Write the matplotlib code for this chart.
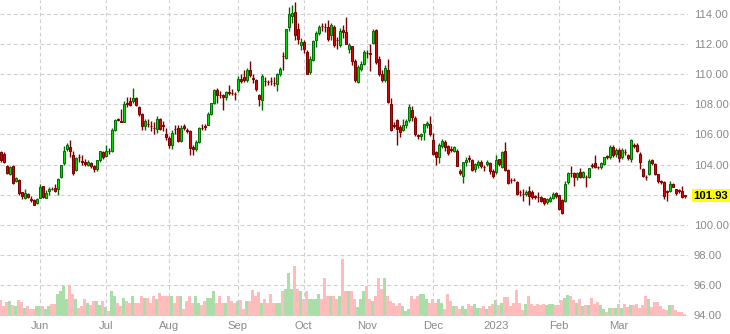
import matplotlib
matplotlib.use("Agg")
import matplotlib.pyplot as plt
import numpy as np

plt.rcParams['font.family'] = ['Liberation Sans', 'DejaVu Sans']

opens = [
    104.82, 104.71, 103.93, 103.38, 103.89, 102.93, 102.98, 102.16, 101.78, 102.04,
    101.69, 101.64, 101.42, 101.78, 102.58, 101.78, 102.22, 102.40, 102.42, 102.38,
    103.16, 104.09, 105.04, 105.16, 104.60, 103.64, 104.49, 104.22, 104.20, 104.00,
    104.09, 103.93, 103.71, 104.31, 104.82, 104.58, 104.93, 104.93, 106.31, 107.00,
    106.87, 106.84, 108.07, 108.20, 108.20, 108.44, 107.82, 107.33, 106.53, 106.68,
    106.57, 106.45, 106.38, 107.00, 106.61, 106.04, 105.76, 105.33, 106.37, 106.40,
    105.58, 106.53, 106.28, 106.22, 105.16, 105.04, 105.51, 106.45, 106.54, 106.64,
    107.38, 108.09, 108.93, 108.65, 108.60, 108.49, 108.79, 108.77, 108.70, 108.93,
    109.69, 109.82, 109.60, 110.31,
    109.72, 109.60, 108.64, 108.27, 109.54, 109.50, 109.54, 109.45, 109.38, 110.00,
    111.23, 111.11, 113.16, 113.89, 114.11, 112.98, 111.93, 112.16, 111.49, 110.16,
    110.93, 112.27, 112.76, 113.23, 113.17, 113.16, 112.60, 113.16, 112.28, 111.93,
    112.93, 112.82, 111.71, 111.87, 110.87, 109.49, 110.38, 110.71, 111.43, 111.39,
    112.09, 112.93, 111.04, 110.00, 109.64, 110.27, 108.04, 106.61, 106.93, 106.49,
    106.31, 106.60, 106.98, 107.60, 107.09, 105.94, 105.87, 106.16, 106.60, 106.71,
    105.60, 104.82, 104.49, 105.24, 105.49, 105.20, 105.01, 104.93, 104.93, 103.60,
    103.22, 104.16, 104.41, 104.31, 103.71, 104.00,
    104.16, 103.83, 104.04, 104.11, 103.60, 103.49, 104.38, 103.82, 104.89, 103.64,
    102.99, 102.99, 102.82, 102.17, 102.05, 102.04, 102.27, 102.20, 101.88, 101.83,
    101.82, 101.78, 101.49, 101.60, 101.78, 102.09, 101.98, 101.64, 101.60, 102.82,
    103.43, 103.42, 103.16, 103.49, 103.20, 103.17, 103.16, 103.94, 104.09, 103.83,
    103.82, 104.04, 104.54, 104.49, 105.16, 104.67, 104.98, 104.49, 104.83, 104.60,
    104.38, 105.29, 105.27, 104.71, 103.71, 103.17, 103.38, 104.31, 104.04, 103.38,
    102.93, 102.82, 102.21, 102.27, 102.71, 102.38, 102.28, 102.27, 101.94,
]

closes = [
    104.27, 104.16, 103.42, 103.82, 102.76, 103.11, 102.09, 101.93, 102.09, 101.87,
    101.65, 101.33, 101.69, 102.49, 101.82, 102.13, 102.38, 102.36, 102.27, 103.04,
    104.00, 104.93, 105.33, 104.93, 103.42, 104.44, 104.47, 104.20, 104.04, 104.20,
    103.87, 103.71, 104.27, 104.87, 104.49, 104.93, 104.91, 106.31, 106.93, 106.98,
    106.85, 108.00, 108.05, 107.98, 108.40, 107.98, 107.33, 106.53, 106.89, 106.66,
    106.55, 106.43, 107.04, 106.38, 106.59, 105.82, 105.33, 106.11, 106.35, 105.58,
    106.44, 106.40, 106.26, 105.11, 105.04, 105.51, 106.42, 106.43, 106.52, 107.38,
    108.09, 108.98, 108.64, 108.63, 108.49, 108.80, 108.77, 108.75, 108.68, 109.69,
    109.53, 109.60, 110.27, 109.93,
    109.70, 109.04, 108.33, 109.87, 109.52, 109.48, 109.52, 109.43, 110.00, 110.38,
    111.21, 112.98, 114.00, 114.09, 112.60, 112.31, 112.16, 111.71, 110.04, 111.04,
    112.20, 112.76, 113.11, 113.21, 113.15, 112.31, 113.27, 111.93, 112.26, 112.89,
    112.82, 112.04, 111.93, 110.89, 109.60, 110.49, 110.67, 111.49, 111.41, 111.37,
    112.89, 110.82, 110.00, 109.64, 110.44, 108.16, 106.27, 106.59, 106.38, 106.18,
    106.60, 106.89, 107.82, 107.16, 106.00, 105.92, 106.00, 106.67, 106.78, 106.00,
    104.67, 104.49, 105.27, 105.56, 105.16, 104.76, 104.99, 105.16, 103.93, 103.42,
    104.20, 104.31, 104.39, 103.64, 104.04, 104.16,
    103.93, 103.81, 104.20, 103.56, 103.27, 104.31, 104.04, 104.82, 103.64, 102.76,
    102.97, 102.97, 102.04, 102.15, 102.03, 102.20, 101.93, 101.82, 101.86, 101.81,
    101.60, 101.42, 101.71, 101.76, 102.04, 101.93, 101.04, 100.76, 102.71, 103.42,
    103.41, 103.16, 103.42, 103.20, 103.53, 103.15, 103.78, 103.92, 103.82, 103.81,
    104.09, 104.49, 104.52, 105.16, 104.60, 104.98, 104.44, 104.98, 104.81, 104.44,
    105.60, 105.20, 104.93, 104.16, 103.27, 103.15, 104.22, 104.09, 103.38, 102.93,
    102.82, 101.93, 102.19, 102.71, 102.53, 102.09, 102.26, 101.82, 101.93,
]

highs = [
    104.9, 104.8, 104.0, 103.9, 103.95, 103.2, 103.05, 102.2, 102.4, 102.1,
    101.9, 101.7, 101.8, 102.7, 102.6, 102.3, 102.5, 102.5, 102.7, 103.1,
    104.0, 105.2, 105.4, 105.6, 104.9, 104.5, 104.7, 104.6, 104.4, 104.3,
    104.2, 104.0, 104.3, 104.9, 104.9, 105.3, 105.1, 106.4, 107.0, 107.1,
    107.7, 108.2, 108.5, 108.5, 109.1, 108.5, 107.9, 107.4, 107.0, 107.0,
    106.9, 106.8, 107.2, 107.1, 106.9, 106.4, 105.9, 106.3, 106.6, 106.6,
    106.6, 106.7, 106.4, 106.3, 105.3, 105.6, 106.5, 106.7, 106.7, 107.5,
    108.1, 109.0, 109.1, 108.9, 108.7, 108.9, 109.3, 109.0, 108.8, 109.9,
    110.0, 110.3, 110.4, 110.9,
    110.0, 109.7, 108.7, 110.0, 109.8, 109.6, 109.8, 109.8, 110.1, 110.5,
    111.5, 113.0, 114.5, 114.6, 114.8, 113.4, 112.4, 112.3, 111.6, 111.2,
    112.3, 112.9, 113.3, 113.4, 113.4, 113.6, 113.4, 113.3, 112.5, 113.1,
    113.3, 113.8, 112.1, 111.9, 111.0, 110.6, 110.9, 111.6, 111.6, 112.0,
    113.0, 113.0, 111.2, 110.3, 110.6, 111.0, 108.4, 106.8, 107.0, 106.6,
    107.0, 107.0, 108.0, 107.9, 107.2, 106.0, 106.1, 106.7, 106.9, 107.2,
    106.1, 104.9, 105.4, 105.7, 105.6, 105.3, 105.2, 105.2, 105.0, 103.7,
    104.2, 104.5, 104.6, 104.4, 104.1, 104.3,
    104.3, 104.0, 104.3, 104.2, 103.7, 104.6, 104.4, 104.9, 105.5, 103.7,
    103.1, 103.1, 102.9, 102.3, 102.4, 102.3, 102.6, 102.3, 102.0, 102.2,
    101.9, 101.8, 101.8, 101.9, 102.2, 102.2, 102.0, 101.7, 102.9, 103.5,
    103.9, 103.5, 103.5, 103.8, 103.6, 103.3, 103.8, 104.1, 104.6, 103.9,
    104.2, 104.5, 104.6, 105.3, 105.3, 105.1, 105.1, 105.1, 105.0, 104.7,
    105.7, 105.4, 105.4, 104.8, 103.8, 103.3, 104.4, 104.4, 104.1, 103.4,
    103.0, 102.9, 102.3, 102.9, 102.8, 102.4, 102.4, 102.6, 102.0,
]

lows = [
    104.2, 104.1, 103.35, 103.3, 102.7, 102.85, 102.0, 101.7, 101.7, 101.8,
    101.5, 101.3, 101.4, 101.75, 101.8, 101.75, 102.0, 102.3, 102.2, 102.0,
    103.1, 104.0, 104.9, 104.5, 103.3, 103.6, 104.2, 104.0, 103.9, 103.9,
    103.8, 103.5, 103.6, 104.2, 104.4, 104.5, 104.7, 104.8, 106.2, 106.9,
    106.8, 106.8, 107.8, 107.9, 108.1, 107.9, 107.2, 106.3, 106.3, 106.5,
    106.2, 106.0, 106.1, 106.3, 106.2, 105.6, 105.1, 105.0, 106.0, 105.5,
    105.5, 106.3, 106.1, 104.6, 104.6, 104.9, 105.4, 106.3, 106.3, 106.6,
    107.3, 108.0, 108.1, 108.4, 107.6, 108.3, 108.6, 108.6, 108.3, 108.8,
    109.4, 109.5, 109.5, 109.8,
    109.4, 108.9, 107.9, 107.6, 109.2, 109.3, 109.3, 109.2, 108.9, 109.9,
    110.3, 111.0, 112.9, 113.4, 112.3, 112.0, 111.6, 111.4, 110.0, 110.0,
    110.9, 111.8, 112.6, 112.9, 112.8, 112.2, 112.3, 111.8, 111.7, 111.8,
    112.4, 112.0, 111.4, 110.6, 109.5, 109.4, 110.2, 110.6, 111.1, 110.2,
    112.0, 110.7, 109.9, 109.5, 109.5, 108.1, 106.2, 106.4, 105.3, 105.8,
    106.2, 106.4, 106.8, 106.9, 105.9, 105.7, 105.6, 105.6, 106.4, 105.9,
    104.6, 104.0, 104.1, 105.1, 104.9, 104.6, 104.8, 104.8, 103.9, 103.3,
    102.8, 103.9, 104.2, 103.6, 103.5, 103.8,
    103.8, 103.6, 103.9, 103.4, 103.1, 103.4, 103.9, 103.8, 103.6, 102.7,
    102.8, 102.9, 102.0, 101.9, 101.6, 101.9, 101.3, 101.7, 101.7, 101.5,
    101.5, 101.3, 101.4, 101.5, 101.7, 101.8, 101.0, 100.7, 101.5, 102.7,
    103.2, 102.6, 103.0, 103.1, 103.1, 102.5, 103.1, 103.8, 103.8, 103.7,
    103.7, 104.0, 104.4, 104.4, 104.5, 104.5, 104.2, 104.4, 104.6, 104.3,
    104.2, 105.1, 104.8, 103.7, 103.2, 103.0, 103.3, 104.0, 103.3, 102.8,
    102.7, 101.7, 101.6, 102.2, 102.5, 102.0, 102.1, 101.8, 101.8,
]

volumes = [
    16, 10, 14, 15, 11, 10, 16, 14, 8, 10,
    7, 7, 10, 10, 10, 7, 10, 12, 12, 22,
    25, 30, 17, 30, 22, 17, 8, 10, 17, 13,
    11, 15, 15, 11, 15, 9, 5, 25, 20, 13,
    10, 18, 15, 13, 20, 13, 13, 20, 18, 18,
    13, 20, 17, 23, 20, 20, 20, 20, 13, 20,
    20, 7, 15, 20, 13, 20, 13, 11, 15, 18,
    18, 25, 13, 20, 13, 13, 20, 15, 13, 15,
    16, 7, 15, 15,
    26, 20, 24, 13, 17, 13, 22, 13, 13, 13,
    25, 27, 43, 27, 50, 27, 25, 17, 25, 17,
    17, 17, 22, 17, 38, 20, 20, 20, 17, 20,
    57, 25, 25, 25, 17, 9, 17, 25, 30, 17,
    15, 20, 38, 27, 38, 20, 15, 13, 10, 13,
    10, 5, 7, 20, 17, 20, 22, 22, 17, 13,
    17, 13, 17, 13, 7, 22, 15, 10, 10, 7,
    10, 7, 12, 10, 12, 8,
    8, 10, 7, 10, 12, 16, 11, 13, 19, 19,
    10, 13, 26, 13, 6, 12, 20, 12, 10, 12,
    11, 12, 11, 12, 12, 11, 11, 16, 18, 21,
    20, 16, 13, 17, 10, 11, 11, 18, 12, 14,
    11, 7, 4, 8, 8, 8, 12, 8, 12, 9,
    11, 11, 12, 8, 11, 20, 17, 9, 14, 14,
    10, 7, 6, 11, 11, 6, 4, 4, 2,
]

month_labels = ["Jun", "Jul", "Aug", "Sep", "Oct", "Nov", "Dec", "2023", "Feb", "Mar"]
month_start_idx = [13, 35, 56, 79, 101, 122, 144, 165, 186, 206]
price_ticks = [94, 96, 98, 100, 102, 104, 106, 108, 110, 112, 114]
last_price = closes[-1]

o = np.array(opens); c = np.array(closes); h = np.array(highs); l = np.array(lows)
v = np.array(volumes, dtype=float)
x = np.arange(len(o))
up = c >= o

W, H = 730, 334
fig = plt.figure(figsize=(W / 100, H / 100), dpi=100)
fig.patch.set_facecolor("white")
ax = fig.add_axes([0, 18 / H, 688 / W, 316 / H])

# volume on a twin axis, placed behind the candles
ax2 = ax.twinx()
ax2.bar(x, v, width=1.0, color=np.where(up, "#a9dea9", "#ffbcbc"), edgecolor="none")
ax2.set_ylim(0, v.max() * 5.55)
ax2.set_yticks([])
for s in ax2.spines.values():
    s.set_visible(False)
ax.set_zorder(ax2.get_zorder() + 1)
ax.patch.set_visible(False)

fill_up, edge_up = "#00dd00", "#006b00"
fill_dn, edge_dn = "#e00000", "#7a0000"
edges = np.where(up, edge_up, edge_dn)
fills = np.where(up, fill_up, fill_dn)

ax.vlines(x, l, h, colors=edges, linewidth=1.0, zorder=3)
body_bottom = np.minimum(o, c)
body_h = np.maximum(np.abs(c - o), 0.015)
ax.bar(x, body_h, bottom=body_bottom, width=0.72, color=fills, edgecolor=edges,
       linewidth=0.7, zorder=4)

ax.set_xlim(-0.2, 229.1)
ax.set_ylim(94 - 1 / 15, 114 + 14 / 15)

ax.set_xticks(month_start_idx)
ax.set_xticklabels(month_labels)
ax.set_yticks(price_ticks)
ax.set_yticklabels([f"{t:.2f}" for t in price_ticks])
ax.yaxis.tick_right()
ax.tick_params(axis="both", length=0, colors="#8a8a8a", labelsize=8.1)
ax.tick_params(axis="y", pad=4.2)
ax.tick_params(axis="x", pad=3.5)
for s in ax.spines.values():
    s.set_visible(False)
ax.grid(True, color="#cfcfcf", linestyle=(0, (3.5, 2.5)), linewidth=0.8)
ax.set_axisbelow(True)

ax.annotate(f"{last_price:.2f}", xy=(1, last_price), xycoords=("axes fraction", "data"),
            xytext=(4.0, 0), textcoords="offset points", va="center", ha="left",
            fontsize=8.1, fontweight="bold", color="black",
            bbox=dict(boxstyle="square,pad=0.15", fc="#ffff00", ec="none"),
            annotation_clip=False)

fig.savefig("out.png", dpi=100, facecolor="white")
